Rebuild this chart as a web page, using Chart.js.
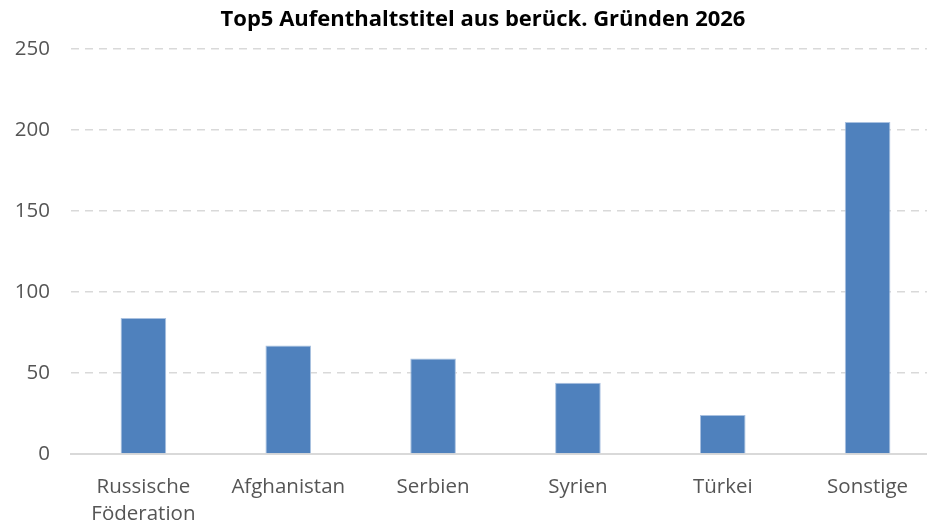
<!DOCTYPE html>
<html lang="de">
<head>
<meta charset="utf-8">
<title>Top5 Aufenthaltstitel</title>
<script src="https://cdn.jsdelivr.net/npm/chart.js@4"></script>
<style>
  html, body { margin: 0; padding: 0; background: #fff; overflow: hidden; }
  .wrap { position: relative; width: 940px; height: 527px; }
</style>
</head>
<body>
<div class="wrap"><canvas id="titelChart"></canvas></div>
<script>
// Kategorien (Staatsangehörigkeit) und Anzahl Aufenthaltstitel
const laender = [['Russische', 'Föderation'], 'Afghanistan', 'Serbien', 'Syrien', 'Türkei', 'Sonstige'];
const anzahl = [84, 67, 59, 44, 24, 205];
const yTicks = [0, 50, 100, 150, 200, 250];
const titel = 'Top5 Aufenthaltstitel aus berück. Gründen 2026';

const schrift = '"Open Sans", "Noto Sans", sans-serif';
const grau = '#555555';

// Titel etwas rechts der Mitte, wie im Excel-Diagramm
const titelPlugin = {
  id: 'titelOben',
  afterDraw(chart) {
    const c = chart.ctx;
    c.save();
    c.font = 'bold 22px ' + schrift;
    c.fillStyle = '#000';
    c.textAlign = 'center';
    c.textBaseline = 'middle';
    c.fillText(titel, 483, 20);
    c.restore();
  }
};

new Chart(document.getElementById('titelChart'), {
  type: 'bar',
  data: {
    labels: laender,
    datasets: [{
      label: 'Aufenthaltstitel',
      data: anzahl,
      backgroundColor: '#4F81BD',
      borderColor: '#a9c1e0',
      borderWidth: 1,
      categoryPercentage: 1,
      barPercentage: 0.315
    }]
  },
  options: {
    responsive: true,
    maintainAspectRatio: false,
    animation: false,
    layout: { padding: { left: 0, right: 0, top: 49, bottom: 0 } },
    plugins: {
      legend: { display: false },
      tooltip: { enabled: false },
      title: { display: false }
    },
    scales: {
      x: {
        afterFit: s => { s.height = 73; },
        grid: { display: false },
        border: { display: true, color: '#d9d9d9', width: 2 },
        ticks: {
          color: grau,
          font: { family: schrift, size: 20.5, lineHeight: 1.35 },
          padding: 11,
          maxRotation: 0
        }
      },
      y: {
        min: 0,
        max: 250,
        afterFit: s => { s.width = 71; },
        afterBuildTicks: s => { s.ticks = yTicks.map(v => ({ value: v })); },
        grid: { color: '#d9d9d9', lineWidth: 1.6, drawTicks: false },
        border: { display: false, dash: [8, 6] },
        ticks: {
          color: grau,
          font: { family: schrift, size: 20.5 },
          padding: 21
        }
      }
    }
  },
  plugins: [titelPlugin]
});
</script>
</body>
</html>
